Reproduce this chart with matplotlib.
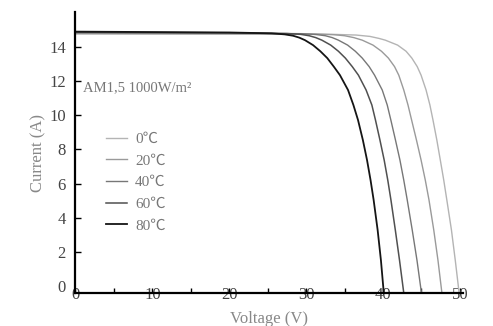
import matplotlib
matplotlib.use("Agg")
import matplotlib.pyplot as plt

plt.rcParams['font.family'] = ['Liberation Serif', 'Noto Sans CJK JP']

# I-V curves of one module at AM1.5, 1000 W/m2, for five cell temperatures
labels = ['0℃', '20℃', '40℃', '60℃', '80℃']
colors = ['#b4b4b4', '#9a9a9a', '#777777', '#505050', '#151515']
widths = [1.0, 1.0, 1.0, 1.1, 1.3]

v_0 = [0, 20, 33.5, 36.5, 38.3, 39.5, 40.3, 41.9, 43.0, 43.75, 44.45, 44.95, 45.6, 46.1,
       46.5, 47.0, 47.45, 47.9, 48.3, 48.9, 49.4, 49.9]
i_0 = [14.76, 14.75, 14.74, 14.70, 14.62, 14.50, 14.40, 14.11, 13.75, 13.35, 12.85, 12.35,
       11.48, 10.6, 9.72, 8.55, 7.38, 6.2, 5.04, 3.28, 1.5, -0.41]

v_20 = [0, 20, 31.5, 33.6, 35.0, 36.2, 37.3, 38.7, 39.8, 40.7, 41.5, 42.05, 42.7, 43.25,
        43.72, 44.35, 44.95, 45.5, 45.98, 46.6, 47.15, 47.66]
i_20 = [14.80, 14.78, 14.76, 14.72, 14.66, 14.55, 14.40, 14.11, 13.75, 13.35, 12.85, 12.35,
        11.48, 10.6, 9.72, 8.55, 7.38, 6.2, 5.04, 3.28, 1.5, -0.41]

v_40 = [0, 20, 29.5, 31.3, 32.5, 33.4, 34.2, 35.4, 36.4, 37.3, 38.2, 38.9, 39.9, 40.55,
        41.02, 41.62, 42.2, 42.7, 43.15, 43.8, 44.42, 45.0]
i_40 = [14.84, 14.81, 14.78, 14.73, 14.66, 14.55, 14.40, 14.11, 13.75, 13.35, 12.85, 12.35,
        11.48, 10.6, 9.72, 8.55, 7.38, 6.2, 5.04, 3.28, 1.5, -0.41]

v_60 = [0, 20, 27.5, 29.3, 30.4, 31.25, 32.05, 33.2, 34.2, 35.1, 36.0, 36.8, 37.8, 38.55,
        39.02, 39.6, 40.15, 40.62, 41.03, 41.6, 42.15, 42.7]
i_60 = [14.87, 14.83, 14.79, 14.74, 14.66, 14.55, 14.40, 14.11, 13.75, 13.35, 12.85, 12.35,
        11.48, 10.6, 9.72, 8.55, 7.38, 6.2, 5.04, 3.28, 1.5, -0.41]

v_80 = [0, 20, 25.5, 27.2, 28.3, 29.1, 29.85, 30.9, 31.85, 32.75, 33.6, 34.4, 35.45, 36.15,
        36.75, 37.38, 37.92, 38.38, 38.78, 39.3, 39.73, 40.1]
i_80 = [14.90, 14.85, 14.80, 14.74, 14.66, 14.55, 14.40, 14.11, 13.75, 13.35, 12.85, 12.35,
        11.48, 10.6, 9.72, 8.55, 7.38, 6.2, 5.04, 3.28, 1.5, -0.41]

voltages = [v_0, v_20, v_40, v_60, v_80]
currents = [i_0, i_20, i_40, i_60, i_80]

fig = plt.figure(figsize=(4.93, 3.26), dpi=100)
ax = fig.add_axes([0.1531, 0.1012, 0.786, 0.862])

for v, i, c, w, lab in zip(voltages, currents, colors, widths, labels):
    ax.plot(v, i, color=c, lw=w, label=lab, solid_joinstyle='round')

ax.set_xlim(0, 50.4)
ax.set_ylim(-0.41, 16.05)

for side in ['top', 'right']:
    ax.spines[side].set_visible(False)
for side in ['left', 'bottom']:
    ax.spines[side].set_linewidth(1.6)
    ax.spines[side].set_color('black')

ax.set_xticks(range(0, 51, 10))
ax.set_xticks(range(5, 50, 10), minor=True)
ax.set_yticks(range(0, 15, 2))
ax.yaxis.get_major_ticks()[0].tick1line.set_visible(False)

ax.tick_params(axis='x', which='both', direction='in', length=3.5, width=1,
               pad=-4.5, labelsize=12, labelcolor='#444444')
ax.tick_params(axis='y', direction='in', length=4.5, width=1,
               pad=7, labelsize=12, labelcolor='#444444')

ax.set_xlabel('Voltage (V)', fontsize=12, color='#888888', labelpad=6)
ax.set_ylabel('Current (A)', fontsize=12, color='#888888', labelpad=2)

ax.text(1.0, 11.6, 'AM1,5 1000W/m²', fontsize=10.5, color='#777777',
        ha='left', va='center')

leg = ax.legend(loc='upper left', bbox_to_anchor=(0.079, 0.572), frameon=False,
                fontsize=11, handlelength=1.35, handletextpad=0.55,
                labelspacing=0.52, borderpad=0, borderaxespad=0)
for t in leg.get_texts():
    t.set_color('#777777')

fig.savefig('out.png', dpi=100)
